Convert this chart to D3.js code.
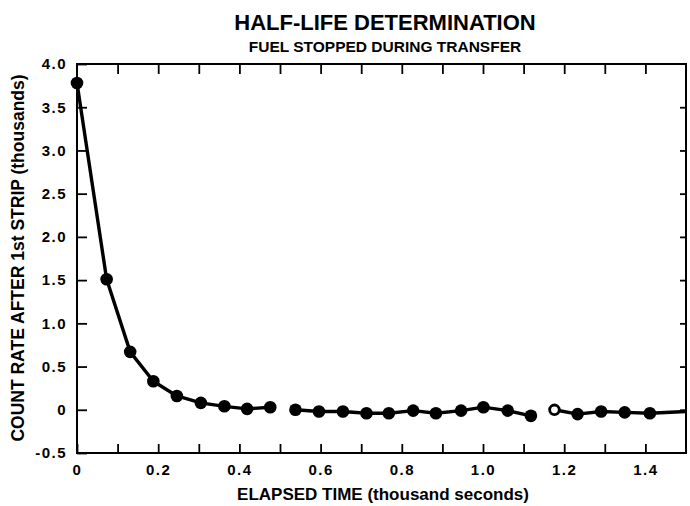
<!DOCTYPE html>
<html><head><meta charset="utf-8">
<script src="https://cdn.jsdelivr.net/npm/d3@7"></script>
<style>
html,body{margin:0;padding:0;background:#fff;}
text{font-family:"Liberation Sans",Arial,Helvetica,sans-serif;font-weight:bold;fill:#000;}
</style></head>
<body><svg id="chart" width="690" height="506"></svg>
<script>
// elapsed time (thousand seconds) and count rate (thousands)
const timeK = [0.0, 0.073, 0.131, 0.188, 0.246, 0.305, 0.363, 0.419, 0.476, 0.538,
               0.596, 0.655, 0.713, 0.768, 0.828, 0.884, 0.946, 1.001, 1.061, 1.118,
               1.176, 1.233, 1.291, 1.349, 1.411];
const counts = [3.78, 1.51, 0.67, 0.33, 0.16, 0.08, 0.04, 0.01, 0.03, 0.0,
                -0.02, -0.02, -0.04, -0.04, -0.01, -0.04, -0.01, 0.03, -0.01, -0.07,
                0.0, -0.05, -0.02, -0.03, -0.04];
const openPoint = [0,0,0,0,0,0,0,0,0,0, 0,0,0,0,0,0,0,0,0,0, 1,0,0,0,0];
const segmentId = [0,0,0,0,0,0,0,0,0,1, 1,1,1,1,1,1,1,1,1,1, 2,2,2,2,2];
const tailTime = [1.5];
const tailCount = [-0.02];
const xTicks = [0,0.1,0.2,0.3,0.4,0.5,0.6,0.7,0.8,0.9,1.0,1.1,1.2,1.3,1.4];
const xTickLabels = {0:"0",0.2:"0.2",0.4:"0.4",0.6:"0.6",0.8:"0.8",1.0:"1.0",1.2:"1.2",1.4:"1.4"};
const yTicks = [-0.5,0,0.5,1.0,1.5,2.0,2.5,3.0,3.5,4.0];
const yTickLabels = ["-0.5","0","0.5","1.0","1.5","2.0","2.5","3.0","3.5","4.0"];
const title = "HALF-LIFE DETERMINATION";
const subtitle = "FUEL STOPPED DURING TRANSFER";
const xTitle = "ELAPSED TIME (thousand seconds)";
const yTitle = "COUNT RATE AFTER 1st STRIP (thousands)";

const svg = d3.select("#chart");
const L = 77, R = 686, T = 64, B = 453;
const x = d3.scaleLinear().domain([0,1.5]).range([L,R]);
const y = d3.scaleLinear().domain([-0.5,4.0]).range([B,T]);

// frame
svg.append("rect").attr("x",L).attr("y",T).attr("width",R-L).attr("height",B-T)
  .attr("fill","none").attr("stroke","#000").attr("stroke-width",2);

// bottom axis (ticks point up)
const xb = svg.append("g").attr("transform",`translate(0,${B})`)
  .call(d3.axisBottom(x).tickValues(xTicks).tickSize(-9).tickPadding(11)
    .tickFormat(d => xTickLabels[Math.round(d*10)/10] ?? ""));
// top axis ticks (hang down)
const xt = svg.append("g").attr("transform",`translate(0,${T})`)
  .call(d3.axisTop(x).tickValues(xTicks.slice(1)).tickSize(-10).tickFormat(""));
// left axis
const yl = svg.append("g").attr("transform",`translate(${L},0)`)
  .call(d3.axisLeft(y).tickValues(yTicks).tickSize(-10).tickPadding(10)
    .tickFormat((d,i) => yTickLabels[i]));
// right axis ticks
const yr = svg.append("g").attr("transform",`translate(${R},0)`)
  .call(d3.axisRight(y).tickValues(yTicks.slice(1,-1)).tickSize(-6).tickFormat(""));

[xb,xt,yl,yr].forEach(g => {
  g.select(".domain").remove();
  g.selectAll(".tick line").attr("stroke","#000").attr("stroke-width",1.8);
  g.selectAll(".tick text").attr("font-size",15).attr("letter-spacing","1.5px")
   .attr("font-family","'Liberation Sans',Arial,sans-serif").attr("font-weight","bold");
});

// data line segments
const pts = timeK.map((t,i) => ({t, c: counts[i], seg: segmentId[i], open: openPoint[i]}));
const segs = d3.groups(pts, d => d.seg).map(g => g[1]);
segs[segs.length-1] = segs[segs.length-1].concat(tailTime.map((t,i)=>({t, c: tailCount[i]})));
const line = d3.line().x(d => x(d.t)).y(d => y(d.c));
svg.append("g").selectAll("path").data(segs).join("path")
  .attr("d", line).attr("fill","none").attr("stroke","#000").attr("stroke-width",3.4)
  .attr("stroke-linejoin","round");

// points
svg.append("g").selectAll("circle").data(pts).join("circle")
  .attr("cx", d => x(d.t)).attr("cy", d => y(d.c))
  .attr("r", d => d.open ? 4.8 : 6.3)
  .attr("fill", d => d.open ? "#fff" : "#000")
  .attr("stroke","#000").attr("stroke-width", d => d.open ? 2.8 : 0);

// titles
svg.append("text").attr("x",385).attr("y",30).attr("text-anchor","middle")
  .attr("font-size",22).text(title);
svg.append("text").attr("x",385).attr("y",52).attr("text-anchor","middle")
  .attr("font-size",15.5).text(subtitle);
svg.append("text").attr("x",383).attr("y",500).attr("text-anchor","middle")
  .attr("font-size",17).text(xTitle);
svg.append("text").attr("transform","translate(24,258) rotate(-90)")
  .attr("text-anchor","middle").attr("font-size",17.5).text(yTitle);
</script></body></html>
